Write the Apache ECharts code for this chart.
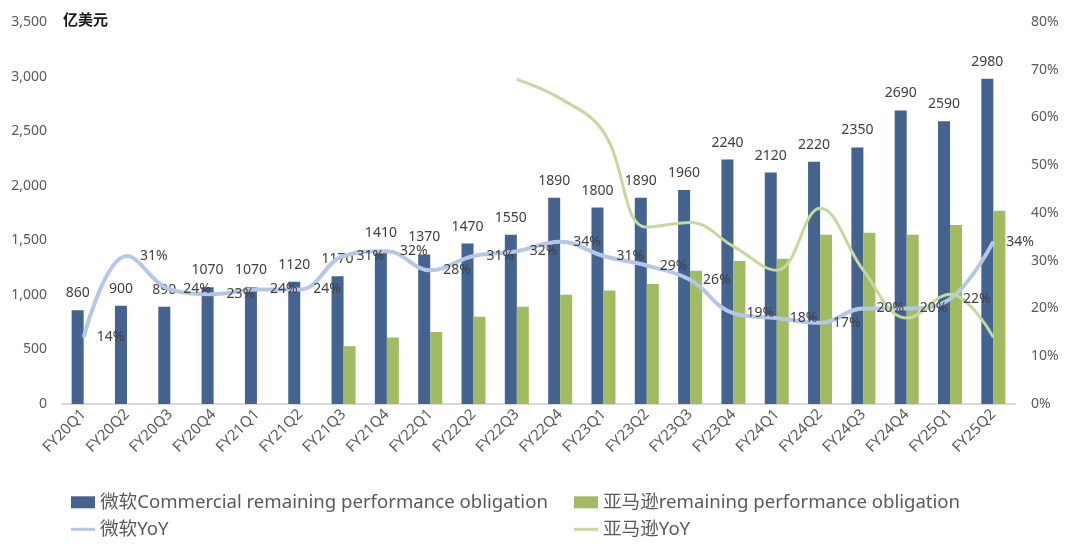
<!DOCTYPE html>
<html>
<head>
<meta charset="utf-8">
<script src="https://cdn.jsdelivr.net/npm/echarts@6/dist/echarts.min.js"></script>
<style>html,body{margin:0;padding:0;background:#fff}#c{width:1080px;height:550px}</style>
</head>
<body>
<div id="c"></div>
<script>
const categories = ['FY20Q1','FY20Q2','FY20Q3','FY20Q4','FY21Q1','FY21Q2','FY21Q3','FY21Q4','FY22Q1','FY22Q2','FY22Q3','FY22Q4','FY23Q1','FY23Q2','FY23Q3','FY23Q4','FY24Q1','FY24Q2','FY24Q3','FY24Q4','FY25Q1','FY25Q2'];
const msftRPO = [860,900,890,1070,1070,1120,1170,1410,1370,1470,1550,1890,1800,1890,1960,2240,2120,2220,2350,2690,2590,2980];
const amznRPO = [null,null,null,null,null,null,530,610,660,800,890,1000,1040,1100,1220,1310,1330,1550,1570,1550,1640,1770];
const msftYoY = [14,31,24,23,24,24,31,32,28,31,32,34,31,29,26,19,18,17,20,20,22,34];
const amznYoY = [null,null,null,null,null,null,null,null,null,null,68,64,57,37,38,33,28,41,28,18,23,14];
const leftTicks = [0,500,1000,1500,2000,2500,3000,3500];
const rightTicks = [0,10,20,30,40,50,60,70,80];
const seriesNames = ['微软Commercial remaining performance obligation','亚马逊remaining performance obligation','微软YoY','亚马逊YoY'];

const FONT = '"Noto Sans","Noto Sans CJK SC",sans-serif';
const chart = echarts.init(document.getElementById('c'), null, {renderer:'canvas'});
const legendText = {color:'#595959', fontSize:18.6, fontFamily:FONT};
function mkLegend(name, left, top, h){
  return {data:[{name:name, icon:'rect'}], left:left, top:top, itemWidth:24, itemHeight:h,
    textStyle:legendText, padding:0, selectedMode:false};
}
chart.setOption({
  animation:false,
  textStyle:{fontFamily:FONT},
  grid:{left:62, right:65, top:22, bottom:146, containLabel:false},
  legend:[
    mkLegend(seriesNames[0], 71, 493, 12),
    mkLegend(seriesNames[1], 574, 493, 12),
    mkLegend(seriesNames[2], 71, 520, 3),
    mkLegend(seriesNames[3], 574, 520, 3)
  ],
  graphic:[{type:'text', left:63, top:12, style:{text:'亿美元', fill:'#1a1a1a', font:'bold 15px "Noto Sans CJK SC",sans-serif'}}],
  xAxis:{type:'category', data:categories, boundaryGap:true,
    axisLine:{lineStyle:{color:'#d9d9d9', width:2}}, axisTick:{show:false},
    axisLabel:{rotate:45, color:'#595959', fontSize:15, margin:8, interval:0}},
  yAxis:[
    {type:'value', min:0, max:3500, interval:500, splitLine:{show:false},
     axisLine:{show:false}, axisTick:{show:false},
     axisLabel:{color:'#595959', fontSize:14, margin:15,
       formatter:v=>v.toLocaleString('en-US')}},
    {type:'value', min:0, max:80, interval:10, splitLine:{show:false},
     axisLine:{show:false}, axisTick:{show:false},
     axisLabel:{color:'#595959', fontSize:14, margin:16, formatter:v=>v+'%'}}
  ],
  series:[
    {name:seriesNames[0], type:'bar', data:msftRPO, barWidth:12, barGap:'0%',
     itemStyle:{color:'#44638F'},
     label:{show:true, position:'top', distance:10, color:'#404040', fontSize:14}},
    {name:seriesNames[1], type:'bar', data:amznRPO, barWidth:12, barGap:'0%',
     itemStyle:{color:'#A0BB62'}},
    {name:seriesNames[2], type:'line', yAxisIndex:1, data:msftYoY, smooth:0.4,
     symbol:'circle', symbolSize:2, showSymbol:true, showAllSymbol:true,
     lineStyle:{color:'#B4C7E7', width:4}, itemStyle:{color:'#B4C7E7'},
     label:{show:true, position:'right', distance:12, color:'#404040', fontSize:14, formatter:p=>p.value+'%'},
     labelLayout:{hideOverlap:false}},
    {name:seriesNames[3], type:'line', yAxisIndex:1, data:amznYoY, smooth:0.4, symbol:'none',
     lineStyle:{color:'#C5D89E', width:3}, itemStyle:{color:'#C5D89E'}}
  ]
});
</script>
</body>
</html>
